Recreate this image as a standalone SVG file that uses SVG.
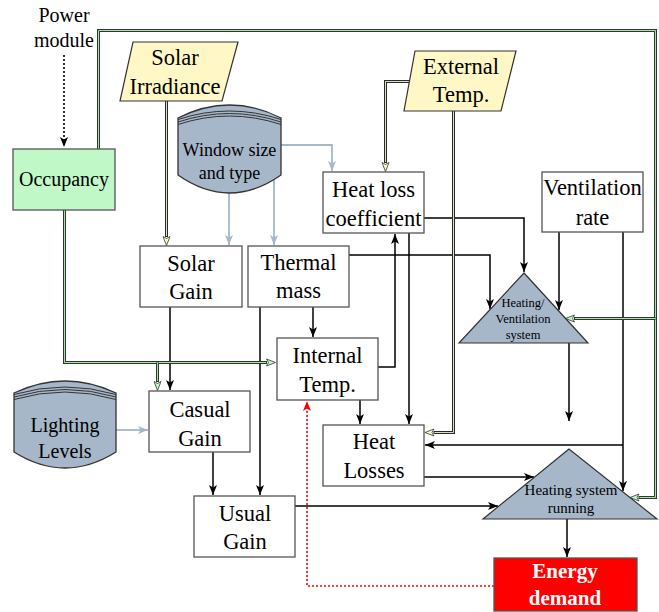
<svg xmlns="http://www.w3.org/2000/svg" width="659" height="612" viewBox="0 0 659 612">
<style>
text{fill:#000;text-anchor:middle}
.t22{font-size:22.5px}
.t20{font-size:20px}
.t18{font-size:18px}
.t15{font-size:15px}
.t12{font-size:12.5px}
.box{fill:#fff;stroke:#555;stroke-width:1.3}
.ln{fill:none;stroke:#000;stroke-width:1.5}
.blue{fill:none;stroke:#a7b7ca;stroke-width:1.8}
.dot{fill:none;stroke:#000;stroke-width:1.6;stroke-dasharray:2,2}
.red{fill:none;stroke:#f00;stroke-width:1.6;stroke-dasharray:2,2}
.yo{fill:none;stroke:#2a2a2a;stroke-width:3}
.yi{fill:none;stroke:#e0e0c8;stroke-width:1}
.go{fill:none;stroke:#2a3a2a;stroke-width:3}
.gi{fill:none;stroke:#b0e0b0;stroke-width:1}
.cyl{fill:#a7b7ca;stroke:#333;stroke-width:1.3}
.cl{fill:none;stroke:#333;stroke-width:1}
.tri{fill:#a7b7ca;stroke:#333;stroke-width:1.2}
</style>
<defs>
<marker id="ab" markerUnits="userSpaceOnUse" markerWidth="11" markerHeight="9" refX="10" refY="4.5" orient="auto" viewBox="0 0 11 9"><path d="M0,0.5 L10,4.5 L0,8.5 L2.5,4.5 Z" fill="#000"/></marker>
<marker id="abl" markerUnits="userSpaceOnUse" markerWidth="11" markerHeight="9" refX="10" refY="4.5" orient="auto" viewBox="0 0 11 9"><path d="M0,0.5 L10,4.5 L0,8.5 L2.5,4.5 Z" fill="#a7b7ca"/></marker>
<marker id="ar" markerUnits="userSpaceOnUse" markerWidth="11" markerHeight="9" refX="10" refY="4.5" orient="auto" viewBox="0 0 11 9"><path d="M0,0.5 L10,4.5 L0,8.5 L2.5,4.5 Z" fill="#f00"/></marker>
<marker id="ay" markerUnits="userSpaceOnUse" markerWidth="11" markerHeight="9" refX="1" refY="4.5" orient="auto" viewBox="0 0 11 9"><path d="M0.5,1 L9.5,4.5 L0.5,8 L2.5,4.5 Z" fill="#fff8c6" stroke="#333" stroke-width="0.8"/></marker>
<marker id="ag" markerUnits="userSpaceOnUse" markerWidth="11" markerHeight="9" refX="1" refY="4.5" orient="auto" viewBox="0 0 11 9"><path d="M0.5,1 L9.5,4.5 L0.5,8 L2.5,4.5 Z" fill="#c0f8c8" stroke="#333" stroke-width="0.8"/></marker>
</defs>

<g id="connectors">
<path class="ln" d="M170,307 V390" marker-end="url(#ab)"/>
<path class="ln" d="M313,307 V337" marker-end="url(#ab)"/>
<path class="ln" d="M260,307 V495" marker-end="url(#ab)"/>
<path class="ln" d="M349,255 H490 V309" marker-end="url(#ab)"/>
<path class="ln" d="M424,218 H524 V272" marker-end="url(#ab)"/>
<path class="ln" d="M559,232 V310" marker-end="url(#ab)"/>
<path class="ln" d="M623,232 V491" marker-end="url(#ab)"/>
<path class="ln" d="M623,445 H425" marker-end="url(#ab)"/>
<path class="ln" d="M378,367 H395 V234" marker-end="url(#ab)"/>
<path class="ln" d="M409,233 V424" marker-end="url(#ab)"/>
<path class="ln" d="M360,400 V424" marker-end="url(#ab)"/>
<path class="ln" d="M569,343 V421" marker-end="url(#ab)"/>
<path class="ln" d="M424,477 H534" marker-end="url(#ab)"/>
<path class="ln" d="M295,506 H498" marker-end="url(#ab)"/>
<path class="ln" d="M567,519 V557" marker-end="url(#ab)"/>
<path class="ln" d="M213,452 V495" marker-end="url(#ab)"/>
<path class="dot" d="M64,55 V147" marker-end="url(#ab)"/>
<path class="blue" d="M229,193 V245" marker-end="url(#abl)"/>
<path class="blue" d="M274,180 V245" marker-end="url(#abl)"/>
<path class="blue" d="M281,145 H332 V171" marker-end="url(#abl)"/>
<path class="blue" d="M116,430 H148" marker-end="url(#abl)"/>
<path class="red" d="M494,586 H307 V401" marker-end="url(#ar)"/>
<path class="yo" d="M166.5,101 V237" marker-end="url(#ay)"/>
<path class="yi" d="M166.5,101 V236"/>
<path class="yo" d="M409,81.5 H385.5 V163" marker-end="url(#ay)"/>
<path class="yi" d="M409,81.5 H385.5 V162"/>
<path class="yo" d="M453.5,111 V432.5 H433.5" marker-end="url(#ay)"/>
<path class="yi" d="M453.5,111 V432.5 H434.5"/>
<path class="go" d="M98.5,149 V30.5 H655.5 V497.5 H638.5" marker-end="url(#ag)"/>
<path class="gi" d="M98.5,149 V30.5 H655.5 V497.5 H639.5"/>
<path class="go" d="M655.5,318.5 H574" marker-end="url(#ag)"/>
<path class="gi" d="M655.5,318.5 H575"/>
<path class="go" d="M64.5,210 V362.5 H267" marker-end="url(#ag)"/>
<path class="gi" d="M64.5,210 V362.5 H266"/>
<path class="go" d="M157.5,362.5 V382" marker-end="url(#ag)"/>
<path class="gi" d="M157.5,362.5 V381"/>
</g>

<g id="power-module">
<text class="t20" x="64" y="22" style="font-family:'Liberation Serif',serif">Power</text>
<text class="t20" x="64" y="47" style="font-family:'Liberation Serif',serif">module</text>
</g>

<g id="occupancy">
<rect x="13" y="149" width="102" height="61" fill="#c0f8c8" stroke="#555" stroke-width="1.3"/>
<text class="t20" x="64" y="186" style="font-family:'Liberation Serif',serif">Occupancy</text>
</g>

<g id="solar-irradiance">
<polygon points="133,42 238,42 222,101 120,101" fill="#fff8c6" stroke="#333" stroke-width="1.2"/>
<text class="t22" x="175" y="65" style="font-family:'Liberation Serif',serif">Solar</text>
<text class="t22" x="175" y="94" style="font-family:'Liberation Serif',serif">Irradiance</text>
</g>

<g id="window">
<path class="cyl" d="M178,118 Q229.5,92 281,118 L281,175 Q229.5,211 178,175 Z"/>
<path class="cl" d="M178,119.5 Q229.5,102.5 281,119.5 M178,122 Q229.5,105 281,122 M178,124.5 Q229.5,107.5 281,124.5"/>
<text class="t18" x="229.5" y="156" style="font-family:'Liberation Serif',serif">Window size</text>
<text class="t18" x="229.5" y="179" style="font-family:'Liberation Serif',serif">and type</text>
</g>

<g id="external-temp">
<polygon points="415,51 516,51 501,111 404,111" fill="#fff8c6" stroke="#333" stroke-width="1.2"/>
<text class="t22" x="461" y="74" style="font-family:'Liberation Serif',serif">External</text>
<text class="t22" x="461" y="102" style="font-family:'Liberation Serif',serif">Temp.</text>
</g>

<g id="heat-loss-coefficient">
<rect class="box" x="323" y="172" width="101" height="61"/>
<text class="t22" x="373.5" y="197" style="font-family:'Liberation Serif',serif">Heat loss</text>
<text class="t22" x="373.5" y="226" style="font-family:'Liberation Serif',serif">coefficient</text>
</g>

<g id="ventilation-rate">
<rect class="box" x="542" y="172" width="101" height="60"/>
<text class="t22" x="592.5" y="195" style="font-family:'Liberation Serif',serif">Ventilation</text>
<text class="t22" x="592.5" y="225" style="font-family:'Liberation Serif',serif">rate</text>
</g>

<g id="solar-gain">
<rect class="box" x="140" y="246" width="102" height="61"/>
<text class="t22" x="191" y="271" style="font-family:'Liberation Serif',serif">Solar</text>
<text class="t22" x="191" y="299" style="font-family:'Liberation Serif',serif">Gain</text>
</g>

<g id="thermal-mass">
<rect class="box" x="248" y="246" width="101" height="61"/>
<text class="t22" x="298.5" y="270" style="font-family:'Liberation Serif',serif">Thermal</text>
<text class="t22" x="298.5" y="298" style="font-family:'Liberation Serif',serif">mass</text>
</g>

<g id="heating-ventilation-system">
<polygon class="tri" points="524,273 459,343 588,343"/>
<text class="t12" x="523" y="307" style="font-family:'Liberation Serif',serif">Heating/</text>
<text class="t12" x="523" y="323" style="font-family:'Liberation Serif',serif">Ventilation</text>
<text class="t12" x="523" y="339" style="font-family:'Liberation Serif',serif">system</text>
</g>

<g id="internal-temp">
<rect class="box" x="277" y="338" width="101" height="62"/>
<text class="t22" x="327.5" y="363" style="font-family:'Liberation Serif',serif">Internal</text>
<text class="t22" x="327.5" y="392" style="font-family:'Liberation Serif',serif">Temp.</text>
</g>

<g id="lighting-levels">
<path class="cyl" d="M14,393 Q65,369 116,393 L116,452 Q65,484 14,452 Z"/>
<path class="cl" d="M14,394.5 Q65,379.5 116,394.5 M14,397 Q65,382 116,397 M14,399.5 Q65,384.5 116,399.5"/>
<text class="t20" x="65" y="432" style="font-family:'Liberation Serif',serif">Lighting</text>
<text class="t20" x="65" y="458" style="font-family:'Liberation Serif',serif">Levels</text>
</g>

<g id="casual-gain">
<rect class="box" x="149" y="391" width="101" height="61"/>
<text class="t22" x="200" y="417" style="font-family:'Liberation Serif',serif">Casual</text>
<text class="t22" x="200" y="446" style="font-family:'Liberation Serif',serif">Gain</text>
</g>

<g id="heat-losses">
<rect class="box" x="323" y="425" width="101" height="61"/>
<text class="t22" x="374" y="449" style="font-family:'Liberation Serif',serif">Heat</text>
<text class="t22" x="374" y="478" style="font-family:'Liberation Serif',serif">Losses</text>
</g>

<g id="heating-system-running">
<polygon class="tri" points="569,449 483,519 657,519"/>
<text class="t15" x="571" y="495" style="font-family:'Liberation Serif',serif">Heating system</text>
<text class="t15" x="571" y="513" style="font-family:'Liberation Serif',serif">running</text>
</g>

<g id="usual-gain">
<rect class="box" x="194" y="496" width="101" height="61"/>
<text class="t22" x="245" y="521" style="font-family:'Liberation Serif',serif">Usual</text>
<text class="t22" x="245" y="549" style="font-family:'Liberation Serif',serif">Gain</text>
</g>

<g id="energy-demand">
<rect x="494" y="558" width="143" height="53" fill="#f00" stroke="#555" stroke-width="1.3"/>
<text x="565" y="578" style="font-family:'Liberation Serif',serif;font-size:21px;font-weight:bold;fill:#fff">Energy</text>
<text x="565" y="605" style="font-family:'Liberation Serif',serif;font-size:21px;font-weight:bold;fill:#fff">demand</text>
</g>
</svg>
